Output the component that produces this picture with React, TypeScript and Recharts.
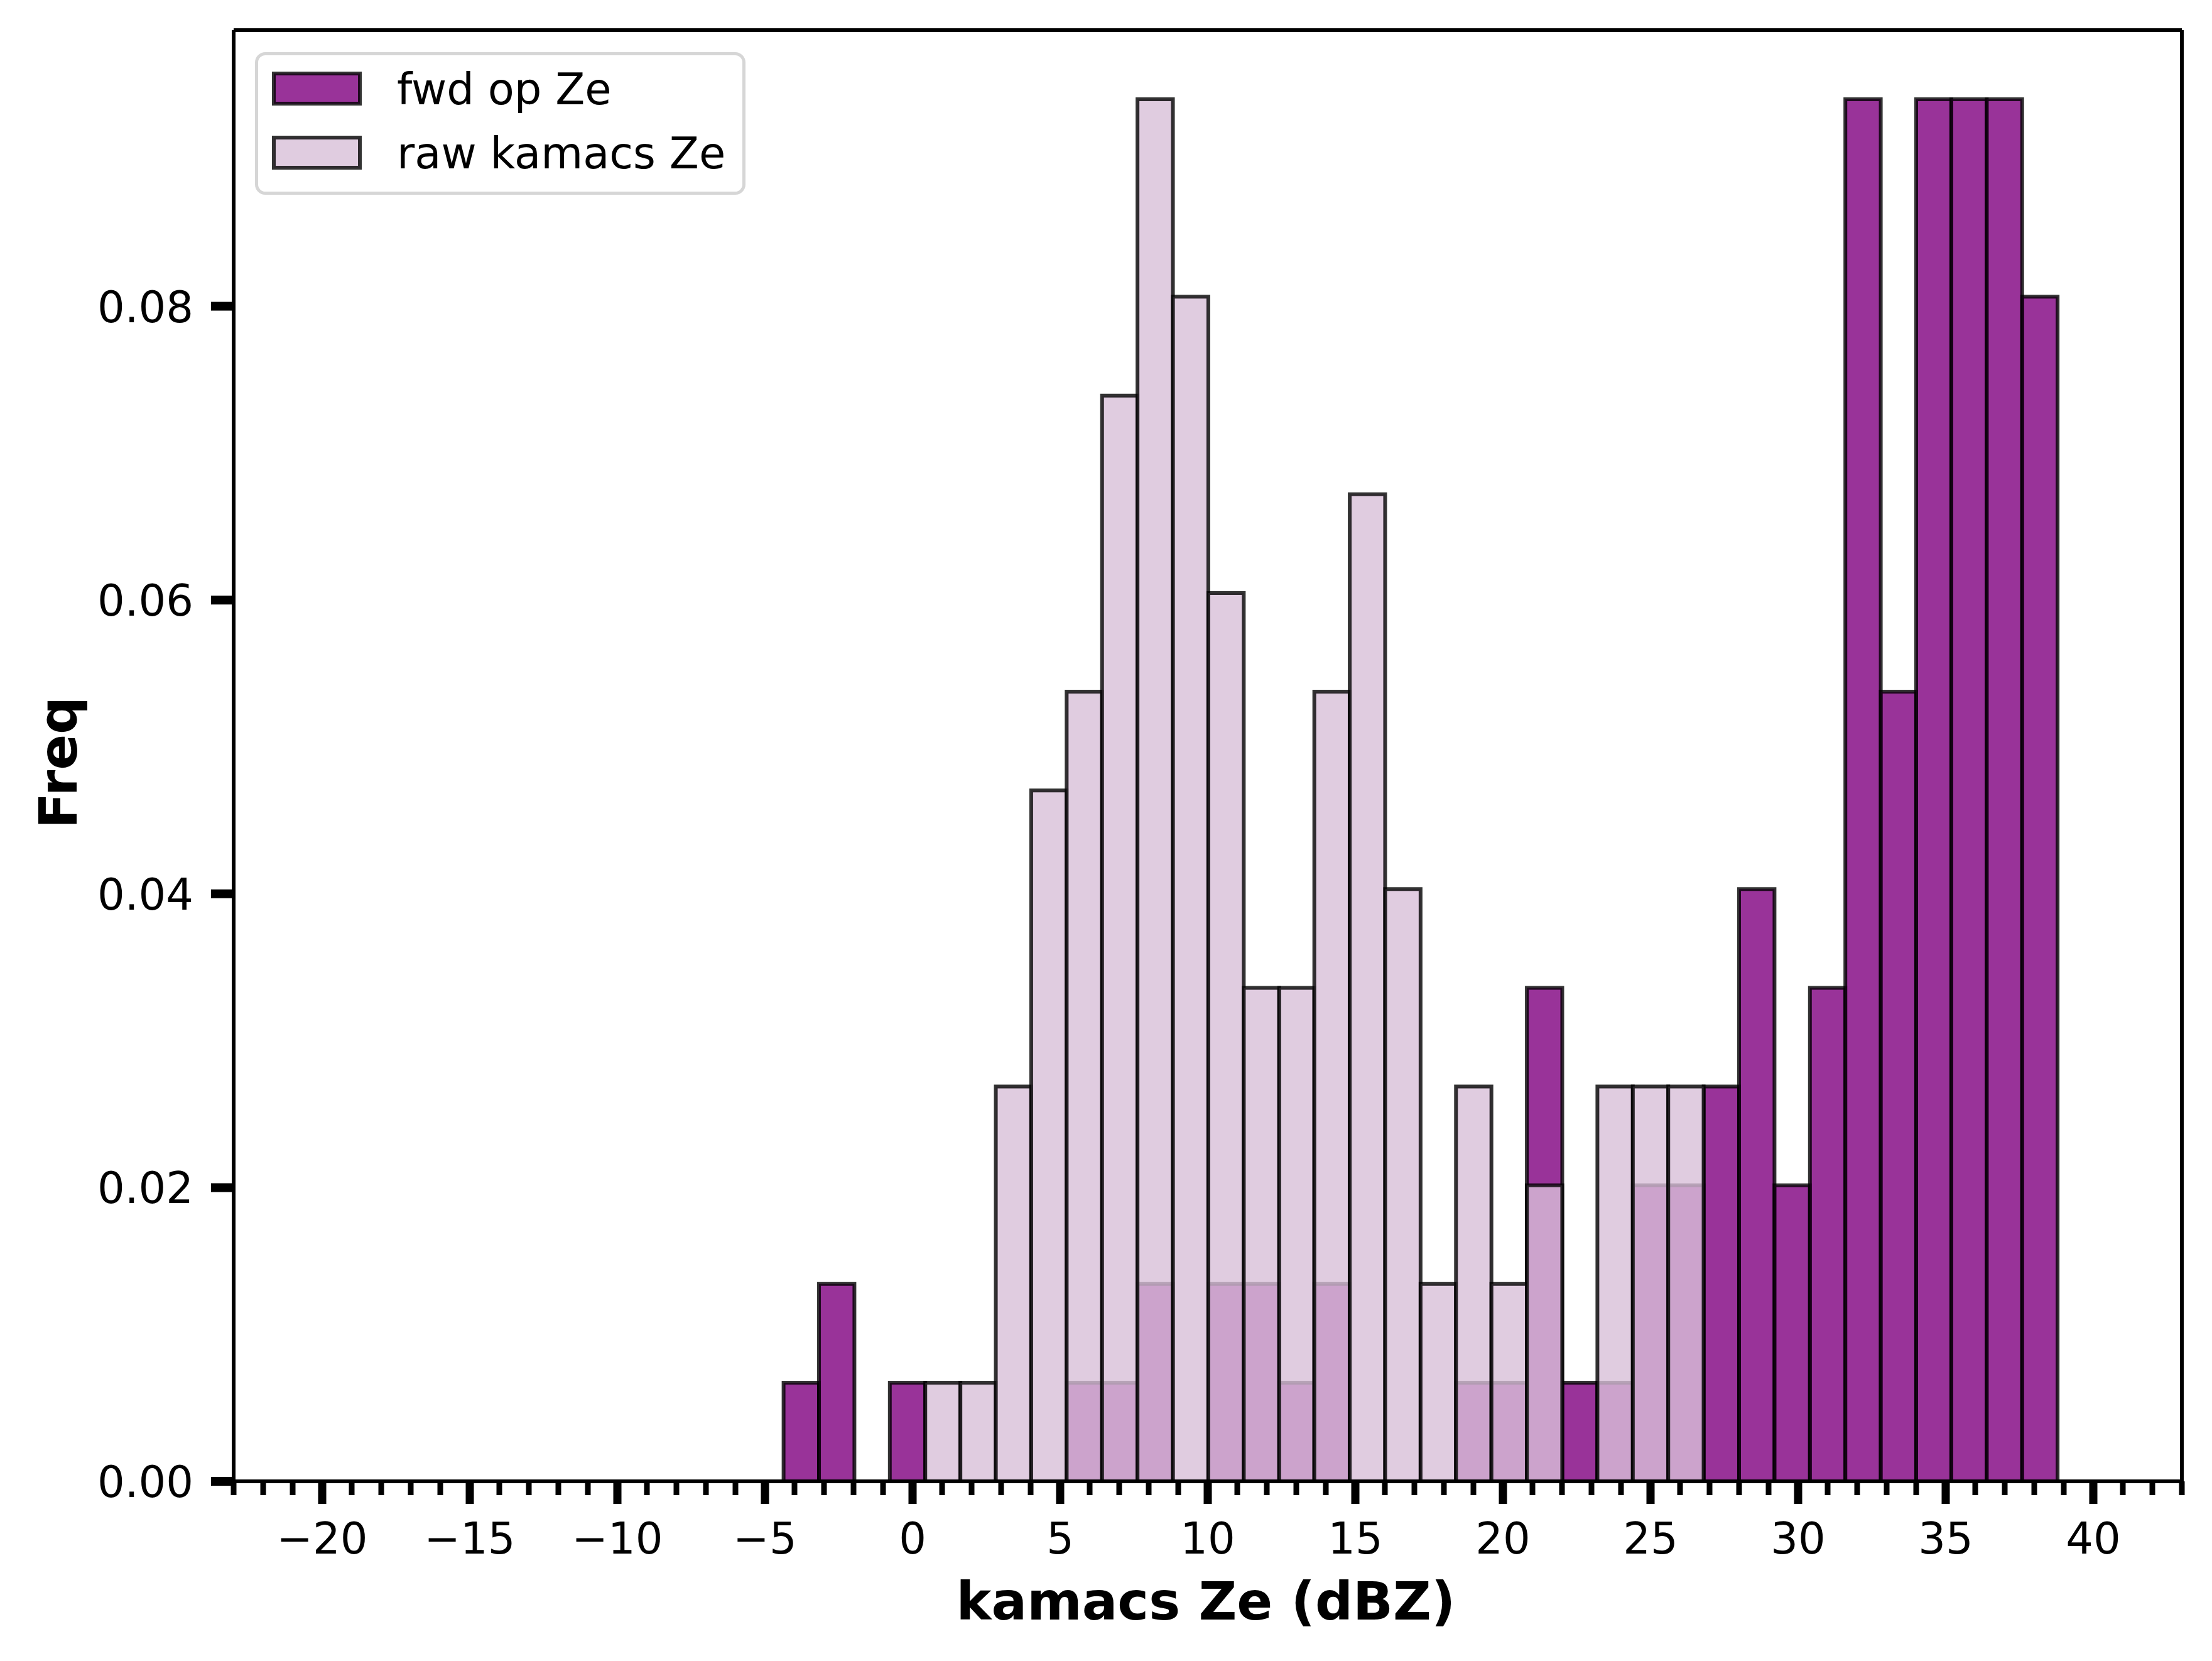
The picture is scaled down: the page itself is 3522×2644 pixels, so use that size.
import React from 'react';
import { ComposedChart, XAxis, YAxis, ReferenceArea, Legend } from 'recharts';

// Histogram bin edges (dBZ), 36 bins
const binEdges = [
  -4.37, -3.17, -1.97, -0.77, 0.43, 1.62, 2.82, 4.02, 5.22, 6.42, 7.62, 8.82,
  10.02, 11.22, 12.42, 13.61, 14.81, 16.01, 17.21, 18.41, 19.61, 20.81, 22.01,
  23.2, 24.4, 25.6, 26.8, 28.0, 29.2, 30.4, 31.6, 32.8, 34.0, 35.19, 36.39,
  37.59, 38.79,
];

// Density values per bin
const fwdOpZe = [
  0.00672, 0.01344, 0, 0.00672, 0, 0, 0, 0, 0.00672, 0.00672, 0.01344, 0,
  0.01344, 0.01344, 0.00672, 0.01344, 0, 0, 0, 0.00672, 0.00672, 0.0336,
  0.00672, 0.00672, 0.02016, 0.02016, 0.02688, 0.04032, 0.02016, 0.0336,
  0.09409, 0.05376, 0.09409, 0.09409, 0.09409, 0.08065,
];
const rawKamacsZe = [
  0, 0, 0, 0, 0.00672, 0.00672, 0.02688, 0.04704, 0.05376, 0.07392, 0.09409,
  0.08065, 0.06048, 0.0336, 0.0336, 0.05376, 0.0672, 0.04032, 0.01344,
  0.02688, 0.01344, 0.02016, 0, 0.02688, 0.02688, 0.02688, 0, 0, 0, 0, 0, 0,
  0, 0, 0, 0,
];

const seriesNames = ['fwd op Ze', 'raw kamacs Ze'];
const seriesColors = ['#800080', '#d8bfd8'];

const xMajorTicks = [-20, -15, -10, -5, 0, 5, 10, 15, 20, 25, 30, 35, 40];
const xAllTicks = Array.from({ length: 67 }, (_, i) => -23 + i);
const yTicks = [0, 0.02, 0.04, 0.06, 0.08];
const xDomain = [-23, 43];
const yDomain = [0, 0.0988];

const chartRows = fwdOpZe.map((v, i) => ({
  lo: binEdges[i],
  hi: binEdges[i + 1],
  fwd: v,
  raw: rawKamacsZe[i],
}));

const FONT = 'DejaVu Sans';
const TICK_FS = 68.75;
const LABEL_FS = 84;

const fmtX = (v: number) => (v < 0 ? '\u2212' + Math.abs(v) : String(v));

const XTick = (props: any) => {
  const { x, y, payload } = props;
  const v = payload.value;
  const major = xMajorTicks.includes(v);
  return (
    <g>
      <line
        x1={x}
        x2={x}
        y1={y}
        y2={y + (major ? 36 : 22)}
        stroke="#000"
        strokeWidth={major ? 13 : 9}
      />
      {major && (
        <text x={x} y={y + 115} textAnchor="middle" fontSize={TICK_FS} fontFamily={FONT} fill="#000">
          {fmtX(v)}
        </text>
      )}
    </g>
  );
};

const YTick = (props: any) => {
  const { x, y, payload } = props;
  return (
    <g>
      <line x1={x - 36} x2={x} y1={y} y2={y} stroke="#000" strokeWidth={14} />
      <text x={x - 64} y={y + 25} textAnchor="end" fontSize={TICK_FS} fontFamily={FONT} fill="#000">
        {Number(payload.value).toFixed(2)}
      </text>
    </g>
  );
};

const XTitle = (props: any) => {
  const vb = props.viewBox || { x: 372, y: 2358, width: 3102, height: 286 };
  return (
    <text
      x={vb.x + vb.width / 2 - 3}
      y={vb.y + 220}
      textAnchor="middle"
      fontSize={LABEL_FS}
      fontWeight="bold"
      fontFamily={FONT}
      fill="#000"
    >
      kamacs Ze (dBZ)
    </text>
  );
};

const YTitle = (props: any) => {
  const vb = props.viewBox || { x: 0, y: 48, width: 372, height: 2310 };
  const cx = vb.x + 122;
  const cy = vb.y + vb.height / 2 + 11;
  return (
    <text
      x={cx}
      y={cy}
      transform={`rotate(-90, ${cx}, ${cy})`}
      textAnchor="middle"
      fontSize={LABEL_FS}
      fontWeight="bold"
      fontFamily={FONT}
      fill="#000"
    >
      Freq
    </text>
  );
};

const LegendBox = () => (
  <svg width={781} height={227} style={{ display: 'block' }}>
    <rect x={2.5} y={2.5} width={776} height={222} rx={14} ry={14} fill="#fff" stroke="#d6d6d6" strokeWidth={5} />
    {seriesNames.map((n, i) => (
      <g key={n}>
        <rect
          x={30}
          y={34 + i * 102}
          width={137}
          height={48}
          fill={seriesColors[i]}
          fillOpacity={0.8}
          stroke="#000"
          strokeOpacity={0.8}
          strokeWidth={6}
        />
        <text x={226} y={83 + i * 102} fontSize={TICK_FS} fontFamily={FONT} fill="#000">
          {n}
        </text>
      </g>
    ))}
  </svg>
);

const axisLineStyle = { stroke: '#000', strokeWidth: 6 };

export default function App() {
  return (
    <div style={{ position: 'absolute', left: 0, top: 0, width: 3522, height: 2644, background: '#fff' }}>
      <ComposedChart
        width={3522}
        height={2644}
        data={chartRows}
        margin={{ top: 47, right: 47, bottom: 0, left: 0 }}
      >
        <XAxis
          xAxisId="bottom"
          dataKey="lo"
          type="number"
          scale="linear"
          domain={xDomain}
          ticks={xAllTicks}
          interval={0}
          allowDataOverflow
          tick={<XTick />}
          tickLine={false}
          tickSize={0}
          tickMargin={0}
          axisLine={axisLineStyle}
          height={286}
          label={<XTitle />}
        />
        <XAxis
          xAxisId="top"
          dataKey="lo"
          orientation="top"
          type="number"
          scale="linear"
          domain={xDomain}
          allowDataOverflow
          tick={false}
          tickLine={false}
          axisLine={axisLineStyle}
          height={1}
        />
        <YAxis
          yAxisId="left"
          type="number"
          domain={yDomain}
          ticks={yTicks}
          interval={0}
          allowDataOverflow
          tick={<YTick />}
          tickLine={false}
          tickSize={0}
          tickMargin={0}
          axisLine={axisLineStyle}
          width={372}
          label={<YTitle />}
        />
        <YAxis
          yAxisId="right"
          orientation="right"
          type="number"
          domain={yDomain}
          allowDataOverflow
          tick={false}
          tickLine={false}
          axisLine={axisLineStyle}
          width={1}
        />
        {chartRows.map((r, i) =>
          r.fwd > 0 ? (
            <ReferenceArea
              key={'fwd' + i}
              xAxisId="bottom"
              yAxisId="left"
              x1={r.lo}
              x2={r.hi}
              y1={0}
              y2={r.fwd}
              fill={seriesColors[0]}
              fillOpacity={0.8}
              stroke="#000"
              strokeOpacity={0.8}
              strokeWidth={6}
              ifOverflow="visible"
            />
          ) : null
        )}
        {chartRows.map((r, i) =>
          r.raw > 0 ? (
            <ReferenceArea
              key={'raw' + i}
              xAxisId="bottom"
              yAxisId="left"
              x1={r.lo}
              x2={r.hi}
              y1={0}
              y2={r.raw}
              fill={seriesColors[1]}
              fillOpacity={0.8}
              stroke="#000"
              strokeOpacity={0.8}
              strokeWidth={6}
              ifOverflow="visible"
            />
          ) : null
        )}
        <Legend
          layout="horizontal"
          align="center"
          verticalAlign="middle"
          content={() => <LegendBox />}
          wrapperStyle={{ left: 406, top: 83, width: 781, height: 227, margin: 0, padding: 0 }}
        />
      </ComposedChart>
    </div>
  );
}
